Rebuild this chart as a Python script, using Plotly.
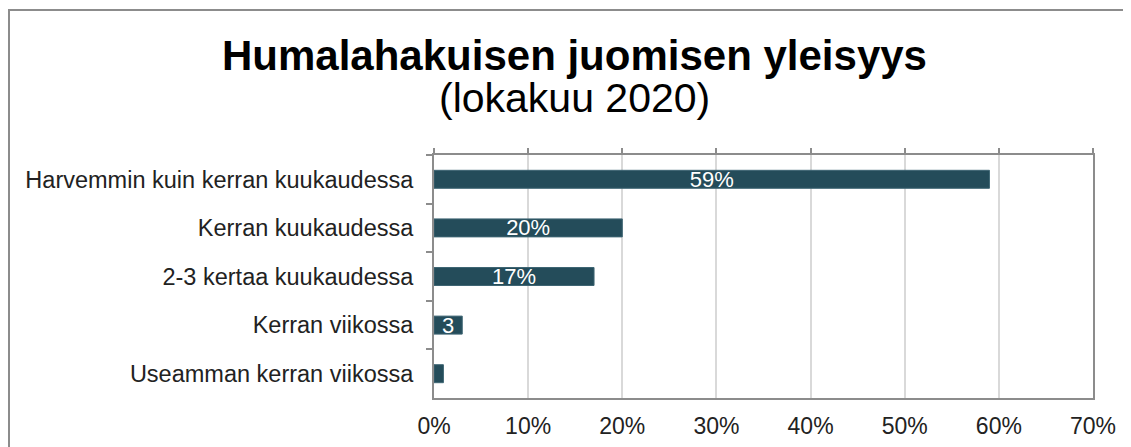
import plotly.graph_objects as go

categories = [
    "Harvemmin kuin kerran kuukaudessa",
    "Kerran kuukaudessa",
    "2-3 kertaa kuukaudessa",
    "Kerran viikossa",
    "Useamman kerran viikossa",
]
values = [59, 20, 17, 3, 1]
bar_labels = ["59%", "20%", "17%", "3", ""]
x_ticks = [0, 10, 20, 30, 40, 50, 60, 70]
x_ticktext = ["0%", "10%", "20%", "30%", "40%", "50%", "60%", "70%"]

title_line1 = "Humalahakuisen juomisen yleisyys"
title_line2 = "(lokakuu 2020)"

# page body adds an 8px margin, so figure coords = screen coords - 8
OFF = 8
W, H = 1131, 447
L, T = 434 - OFF, 155 - OFF
R, B = W - (1093 - OFF), H - (398 - OFF)
pw, ph = W - L - R, H - T - B

bar_color = "#244c5a"
axis_color = "#8c8c8c"
font = "Liberation Sans, Arial, sans-serif"


def px_x(x):
    # screen pixel -> paper coordinate
    return (x - OFF - L) / pw


def px_y(y):
    return 1 + (T - (y - OFF)) / ph


fig = go.Figure()
fig.add_trace(
    go.Bar(
        x=values,
        y=categories,
        orientation="h",
        marker=dict(color=bar_color, line=dict(color="#3e6573", width=1)),
        text=bar_labels,
        textposition="inside",
        insidetextanchor="middle",
        textangle=0,
        constraintext="none",
        textfont=dict(family=font, size=22, color="white"),
        hoverinfo="x+y",
    )
)
# empty trace so the top axis (ticks only) gets drawn
fig.add_trace(go.Scatter(x=[], y=[], xaxis="x2", yaxis="y", showlegend=False))

fig.update_layout(
    width=W,
    height=H,
    margin=dict(l=L, r=R, t=T, b=B),
    paper_bgcolor="white",
    plot_bgcolor="white",
    showlegend=False,
    bargap=0.63,
    font=dict(family=font, size=23, color="#222222"),
    xaxis=dict(
        range=[0, 70],
        tickvals=x_ticks,
        ticktext=x_ticktext,
        showgrid=True,
        gridcolor="#d9d9d9",
        gridwidth=1.5,
        showline=True,
        linecolor=axis_color,
        linewidth=2,
        mirror=True,
        ticks="",
        ticklabelstandoff=6,
        zeroline=False,
        automargin=False,
        tickfont=dict(size=23, color="#222222"),
        fixedrange=True,
    ),
    xaxis2=dict(
        range=[0, 70],
        tickvals=x_ticks,
        overlaying="x",
        side="top",
        showticklabels=False,
        ticks="outside",
        ticklen=6,
        tickwidth=2,
        tickcolor=axis_color,
        showgrid=False,
        showline=False,
        zeroline=False,
        automargin=False,
    ),
    yaxis=dict(
        categoryorder="array",
        categoryarray=categories,
        autorange="reversed",
        tickson="boundaries",
        ticks="outside",
        ticklen=6,
        tickwidth=2,
        tickcolor=axis_color,
        showline=True,
        linecolor=axis_color,
        linewidth=2,
        mirror=True,
        showgrid=False,
        automargin=False,
        ticklabelstandoff=14,
        tickfont=dict(size=23.5, color="#222222"),
    ),
    shapes=[
        # outer chart frame (only left and top edges fall inside the picture)
        dict(
            type="rect",
            xref="paper",
            yref="paper",
            x0=px_x(9),
            x1=px_x(W + 40),
            y0=px_y(H + 40),
            y1=px_y(10),
            line=dict(color=axis_color, width=2),
            fillcolor="rgba(0,0,0,0)",
            layer="below",
        )
    ],
    annotations=[
        dict(
            text="<b>" + title_line1 + "</b>",
            xref="paper",
            yref="paper",
            x=px_x(574),
            y=px_y(55),
            xanchor="center",
            yanchor="middle",
            showarrow=False,
            font=dict(family=font, size=42, color="black"),
        ),
        dict(
            text=title_line2,
            xref="paper",
            yref="paper",
            x=px_x(574),
            y=px_y(98),
            xanchor="center",
            yanchor="middle",
            showarrow=False,
            font=dict(family=font, size=41, color="black"),
        ),
    ],
)

fig.write_html("out.html")
